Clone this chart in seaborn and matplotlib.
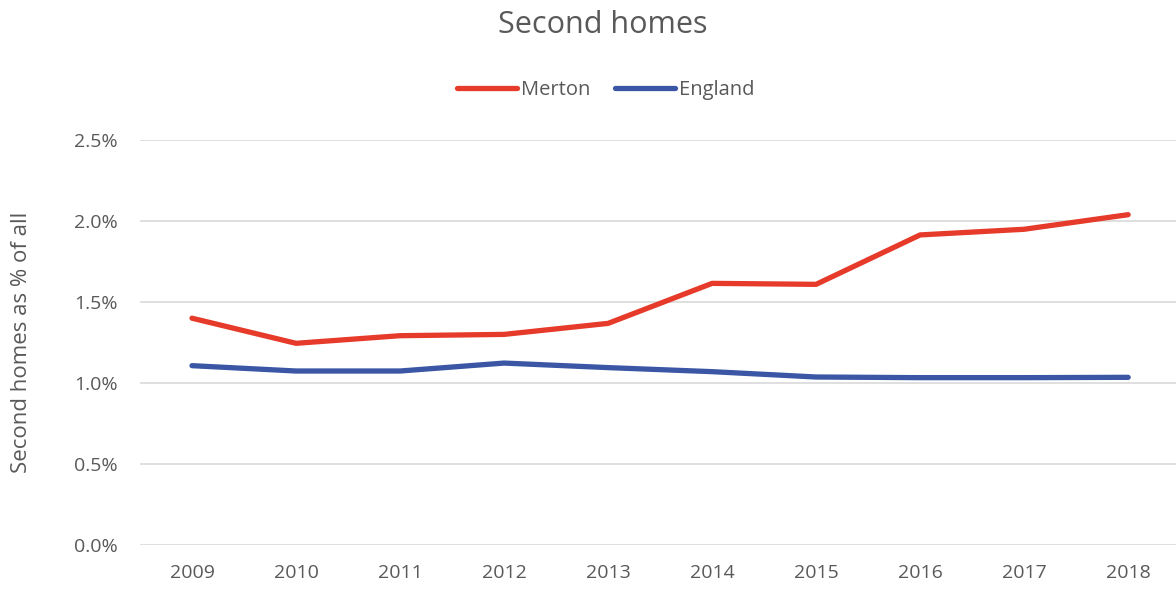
import matplotlib
matplotlib.use("Agg")
import matplotlib.pyplot as plt
import pandas as pd
import seaborn as sns
from matplotlib.ticker import PercentFormatter

years = [2009, 2010, 2011, 2012, 2013, 2014, 2015, 2016, 2017, 2018]
merton = [1.40, 1.245, 1.292, 1.30, 1.368, 1.615, 1.609, 1.914, 1.949, 2.039]
england = [1.107, 1.074, 1.074, 1.123, 1.095, 1.07, 1.037, 1.033, 1.033, 1.035]

df = pd.DataFrame({"Year": [str(y) for y in years] * 2,
                   "Value": merton + england,
                   "Area": ["Merton"] * len(years) + ["England"] * len(years)})

sns.set_style("white")
plt.rcParams["font.family"] = ["Open Sans", "DejaVu Sans"]
grey = "#595959"

fig = plt.figure(figsize=(11.76, 5.9), dpi=100)
ax = fig.add_axes([140 / 1176, 45 / 590, 1036 / 1176, 405 / 590])

sns.lineplot(data=df, x="Year", y="Value", hue="Area", ax=ax,
             palette={"Merton": "#E63A2A", "England": "#3A56A5"},
             linewidth=3.8, sort=False, legend=True)

ax.set_ylim(0, 2.5)
ax.set_xlim(-0.5, 9.46)
ax.yaxis.set_major_formatter(PercentFormatter(decimals=1))
ax.set_yticks([0, 0.5, 1.0, 1.5, 2.0, 2.5])
ax.grid(axis="y", color="#D9D9D9", linewidth=1.2)
ax.set_axisbelow(True)
for s in ax.spines.values():
    s.set_visible(False)
ax.tick_params(axis="both", length=0, labelsize=14, labelcolor=grey)
ax.tick_params(axis="x", pad=14)
ax.tick_params(axis="y", pad=16)
ax.set_xlabel("")
ax.set_ylabel("Second homes as % of all", fontsize=16, color=grey, labelpad=30)

h, l = ax.get_legend_handles_labels()
ax.legend(h, l, loc="center", bbox_to_anchor=((606 - 140) / 1036, 1 + 50 / 405), ncol=2,
          frameon=False, fontsize=14.5, labelcolor=grey, handlelength=3.0,
          handletextpad=0.2, columnspacing=1.2)

fig.text(603 / 1176, 1 - 25 / 590, "Second homes", ha="center", va="center",
         fontsize=22, color=grey)

fig.savefig("out.png", dpi=100)
